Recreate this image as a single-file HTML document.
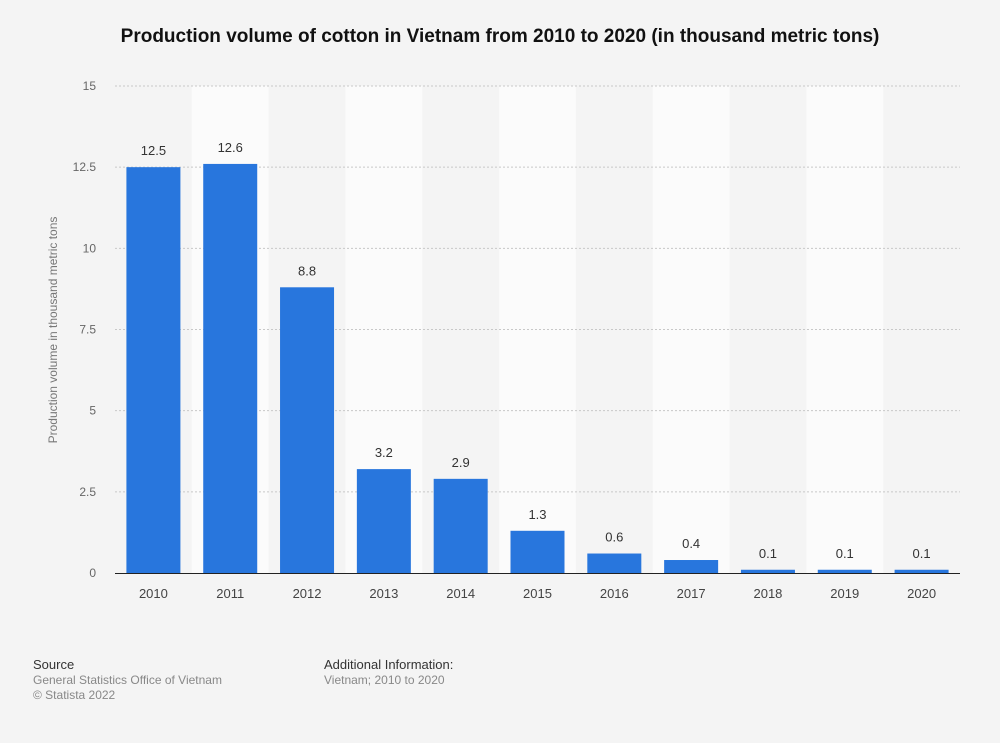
<!DOCTYPE html>
<html><head><meta charset="utf-8"><style>
body{margin:0;background:#f4f4f4;font-family:"Liberation Sans",Arial,sans-serif;}
#wrap{position:relative;width:1000px;height:743px;background:#f4f4f4;}
h1{position:absolute;top:26px;left:0;width:1000px;text-align:center;margin:0;font-size:19px;font-weight:bold;color:#111;}
.foot{position:absolute;font-size:12px;color:#888;line-height:15px;}
.foot b{color:#333;font-weight:normal;font-size:13px;}
</style></head><body>
<div id="wrap">
<h1>Production volume of cotton in Vietnam from 2010 to 2020 (in thousand metric tons)</h1>
<svg id="chart" width="1000" height="743" style="position:absolute;left:0;top:0"></svg>
<div class="foot" style="left:33px;top:657px"><b>Source</b><br>General Statistics Office of Vietnam<br>© Statista 2022</div>
<div class="foot" style="left:324px;top:657px"><b>Additional Information:</b><br>Vietnam; 2010 to 2020</div>
</div>
<script>
const categories=["2010","2011","2012","2013","2014","2015","2016","2017","2018","2019","2020"];
const values=[12.5,12.6,8.8,3.2,2.9,1.3,0.6,0.4,0.1,0.1,0.1];
const labels=["12.5","12.6","8.8","3.2","2.9","1.3","0.6","0.4","0.1","0.1","0.1"];
const yTicks=[0,2.5,5,7.5,10,12.5,15];
const yTickLabels=["0","2.5","5","7.5","10","12.5","15"];
const svg=document.getElementById('chart');const NS='http://www.w3.org/2000/svg';
const L=115,R=960,T=86,B=573,yMax=15;
const bw=(R-L)/categories.length;
const y=v=>B-(v/yMax)*(B-T);
const x=i=>L+i*bw;
function mk(t,a){const e=document.createElementNS(NS,t);for(const k in a)e.setAttribute(k,a[k]);svg.appendChild(e);return e;}
categories.forEach((c,i)=>{if(i%2===1){const r=mk('rect',{x:x(i),y:T,width:bw,height:B-T,fill:'#fbfbfb'});

}});
yTicks.forEach((t,i)=>{if(t>0){const g=mk('line',{x1:L,x2:R,y1:y(t),y2:y(t),stroke:'#c8c8c8','stroke-dasharray':'2,2'});

}
const tx=mk('text',{x:96,y:y(t)+4,'text-anchor':'end','font-size':12,fill:'#666'});tx.textContent=yTickLabels[i];

});
categories.forEach((c,i)=>{const cx=x(i)+bw/2;
const b=mk('rect',{x:cx-27,y:y(values[i]),width:54,height:B-y(values[i]),fill:'#2876dd'});


const v=mk('text',{x:cx,y:y(values[i])-12,'text-anchor':'middle','font-size':13,fill:'#333'});v.textContent=labels[i];


const xl=mk('text',{x:cx,y:598,'text-anchor':'middle','font-size':13,fill:'#444'});xl.textContent=c;

});
const ax=mk('line',{x1:L,x2:R,y1:B+0.5,y2:B+0.5,stroke:'#222','stroke-width':1});


const yt=mk('text',{x:0,y:0,transform:'translate(57,330) rotate(-90)','text-anchor':'middle','font-size':12,fill:'#777'});
yt.textContent='Production volume in thousand metric tons';


</script>
</body></html>
